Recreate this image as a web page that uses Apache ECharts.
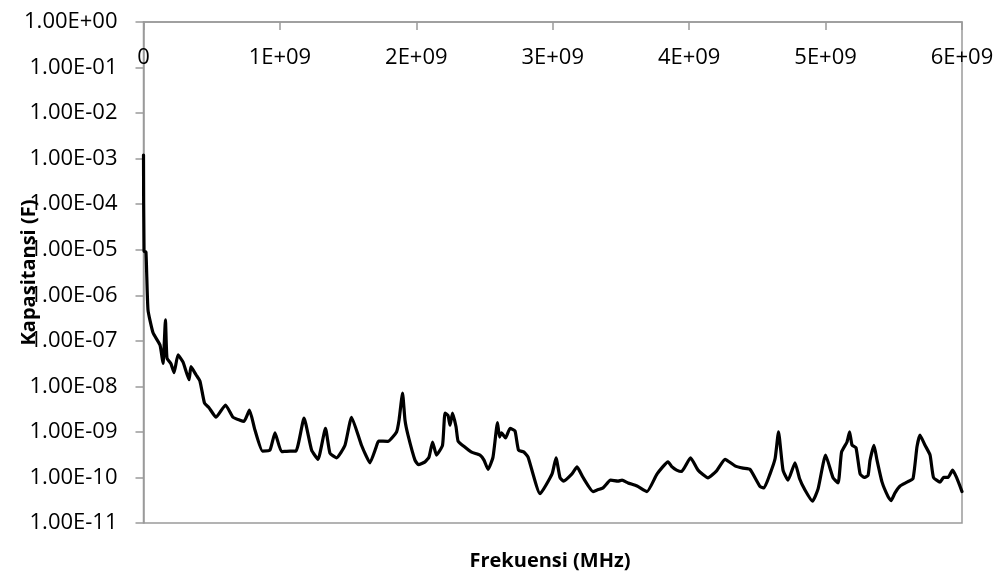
<!DOCTYPE html>
<html>
<head>
<meta charset="utf-8">
<script src="https://cdn.jsdelivr.net/npm/echarts@6/dist/echarts.min.js"></script>
<style>
html,body{margin:0;padding:0;background:#fff;}
#chart{width:1003px;height:578px;}
</style>
</head>
<body>
<div id="chart"></div>
<script>
// Frequency (GHz)
var freqGHz = [0, 0.004, 0.018, 0.033, 0.070, 0.121, 0.143, 0.161, 0.172, 0.202, 0.224, 0.253, 0.290, 0.334, 0.348, 0.385, 0.414, 0.447, 0.480, 0.532, 0.601, 0.656, 0.707, 0.737, 0.777, 0.817, 0.872, 0.927, 0.964, 1.012, 1.074, 1.118, 1.177, 1.232, 1.279, 1.334, 1.367, 1.415, 1.477, 1.525, 1.598, 1.660, 1.704, 1.723, 1.792, 1.855, 1.873, 1.899, 1.917, 1.939, 1.990, 2.016, 2.064, 2.093, 2.119, 2.148, 2.192, 2.210, 2.232, 2.247, 2.265, 2.291, 2.306, 2.346, 2.405, 2.467, 2.496, 2.526, 2.562, 2.595, 2.610, 2.624, 2.654, 2.687, 2.723, 2.749, 2.789, 2.819, 2.907, 2.995, 3.024, 3.053, 3.079, 3.141, 3.178, 3.222, 3.295, 3.325, 3.369, 3.424, 3.479, 3.508, 3.552, 3.618, 3.691, 3.765, 3.845, 3.875, 3.908, 3.944, 4.010, 4.065, 4.138, 4.201, 4.263, 4.336, 4.395, 4.446, 4.520, 4.549, 4.593, 4.630, 4.655, 4.688, 4.725, 4.776, 4.809, 4.849, 4.904, 4.945, 5.000, 5.055, 5.092, 5.117, 5.157, 5.176, 5.194, 5.223, 5.253, 5.282, 5.311, 5.326, 5.355, 5.377, 5.414, 5.458, 5.480, 5.509, 5.546, 5.597, 5.641, 5.670, 5.692, 5.729, 5.766, 5.791, 5.839, 5.865, 5.898, 5.931, 5.960, 6.000];

// Capacitance (F)
var capacitance = [1.2e-3, 9.3e-6, 8.9e-6, 4.8e-7, 1.5e-7, 8.1e-8, 3.2e-8, 2.9e-7, 4.2e-8, 3.1e-8, 2.0e-8, 4.9e-8, 3.4e-8, 1.4e-8, 2.7e-8, 1.8e-8, 1.3e-8, 4.3e-9, 3.4e-9, 2.1e-9, 3.9e-9, 2.1e-9, 1.8e-9, 1.7e-9, 3.0e-9, 1.1e-9, 3.8e-10, 4.0e-10, 9.5e-10, 3.7e-10, 3.8e-10, 3.8e-10, 2.0e-9, 4.0e-10, 2.5e-10, 1.2e-9, 3.4e-10, 2.7e-10, 5.1e-10, 2.1e-9, 5.1e-10, 2.1e-10, 4.5e-10, 6.3e-10, 6.2e-10, 1.0e-9, 1.8e-9, 7.1e-9, 1.8e-9, 8.5e-10, 2.4e-10, 1.9e-10, 2.2e-10, 2.8e-10, 6.0e-10, 3.1e-10, 5.1e-10, 2.6e-9, 2.3e-9, 1.4e-9, 2.6e-9, 1.3e-9, 6.3e-10, 4.9e-10, 3.6e-10, 3.1e-10, 2.4e-10, 1.5e-10, 2.8e-10, 1.6e-9, 7.7e-10, 9.5e-10, 7.4e-10, 1.2e-9, 1.05e-9, 4.0e-10, 3.6e-10, 2.8e-10, 4.4e-11, 1.2e-10, 2.7e-10, 1.0e-10, 8.3e-11, 1.2e-10, 1.7e-10, 1.0e-10, 4.9e-11, 5.3e-11, 5.9e-11, 8.7e-11, 8.3e-11, 8.7e-11, 7.6e-11, 6.5e-11, 4.9e-11, 1.2e-10, 2.2e-10, 1.7e-10, 1.45e-10, 1.35e-10, 2.7e-10, 1.45e-10, 9.8e-11, 1.4e-10, 2.5e-10, 1.8e-10, 1.6e-10, 1.5e-10, 6.3e-11, 5.9e-11, 1.2e-10, 2.6e-10, 1.0e-9, 1.45e-10, 8.7e-11, 2.1e-10, 9.5e-11, 5.3e-11, 3.0e-11, 5.6e-11, 3.1e-10, 9.8e-11, 7.6e-11, 3.6e-10, 6.0e-10, 1.0e-9, 5.1e-10, 4.5e-10, 1.2e-10, 1.0e-10, 1.1e-10, 2.4e-10, 5.1e-10, 2.4e-10, 7.9e-11, 3.8e-11, 3.1e-11, 4.6e-11, 6.5e-11, 7.9e-11, 9.5e-11, 4.7e-10, 8.5e-10, 5.1e-10, 3.1e-10, 1.0e-10, 7.9e-11, 1.0e-10, 1.0e-10, 1.45e-10, 1.0e-10, 4.9e-11];

var xTickLabels = ['0', '1E+09', '2E+09', '3E+09', '4E+09', '5E+09', '6E+09'];
var yTickLabels = ['1.00E-11', '1.00E-10', '1.00E-09', '1.00E-08', '1.00E-07', '1.00E-06', '1.00E-05', '1.00E-04', '1.00E-03', '1.00E-02', '1.00E-01', '1.00E+00'];
var xTitle = 'Frekuensi (MHz)';
var yTitle = 'Kapasitansi (F)';

var n = Math.min(freqGHz.length, capacitance.length);
var seriesData = [];
for (var i = 0; i < n; i++) seriesData.push([freqGHz[i] * 1e9, capacitance[i]]);

var FONT = '"Open Sans", "Liberation Sans", sans-serif';
var AXIS_COLOR = '#9a9a9a';

var chart = echarts.init(document.getElementById('chart'), null, {renderer: 'canvas'});
chart.setOption({
  animation: false,
  backgroundColor: '#ffffff',
  title: {
    text: xTitle,
    left: 545,
    top: 546,
    textAlign: 'center',
    textStyle: {fontFamily: FONT, fontWeight: 'bold', fontSize: 20, color: '#000'}
  },
  grid: {
    left: 143.5, right: 41, top: 22, bottom: 55,
    containLabel: false,
    outerBoundsMode: 'none',
    show: true, borderColor: AXIS_COLOR, borderWidth: 1.5, backgroundColor: 'transparent'
  },
  xAxis: {
    type: 'value',
    position: 'top',
    min: 0, max: 6e9, interval: 1e9,
    axisLine: {show: true, lineStyle: {color: AXIS_COLOR, width: 1.5}},
    axisTick: {show: true, inside: true, length: 8, lineStyle: {color: AXIS_COLOR, width: 1.5}},
    axisLabel: {
      inside: true, margin: 25,
      fontFamily: FONT, fontSize: 22, color: '#000',
      formatter: function (v) { return xTickLabels[Math.round(v / 1e9)]; }
    },
    splitLine: {show: false}
  },
  yAxis: {
    type: 'log',
    logBase: 10,
    min: 1e-11, max: 1,
    interval: 1,
    splitNumber: 11,
    name: yTitle,
    nameLocation: 'middle',
    nameRotate: 90,
    nameGap: 104,
    nameMoveOverlap: false,
    nameTextStyle: {fontFamily: FONT, fontWeight: 'bold', fontSize: 20, color: '#000'},
    axisLine: {show: true, lineStyle: {color: AXIS_COLOR, width: 1.5}},
    axisTick: {show: true, inside: false, length: 8, lineStyle: {color: AXIS_COLOR, width: 1.5}},
    axisLabel: {
      margin: 26,
      fontFamily: FONT, fontSize: 22, color: '#000',
      formatter: function (v) { return yTickLabels[Math.round(Math.log10(v)) + 11]; }
    },
    splitLine: {show: false},
    minorTick: {show: false}
  },
  series: [{
    type: 'line',
    data: seriesData,
    showSymbol: false,
    smooth: 0.15,
    lineStyle: {color: '#000', width: 3.2, join: 'round', cap: 'round'},
    z: 3
  }]
});
</script>
</body>
</html>
